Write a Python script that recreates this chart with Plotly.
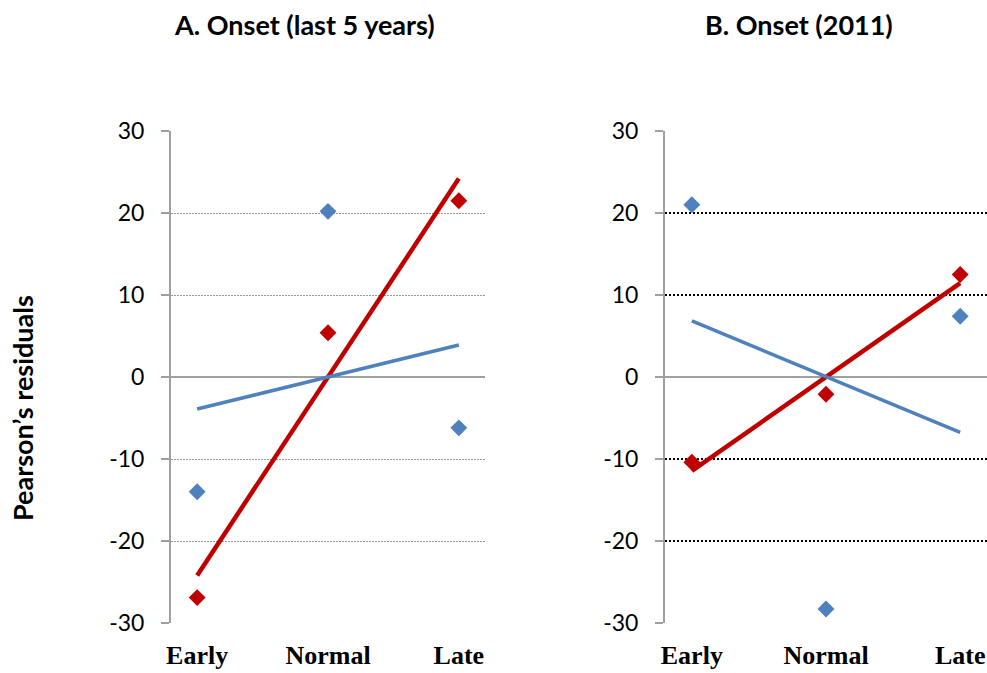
import numpy as np
import plotly.graph_objects as go

categories = ["Early", "Normal", "Late"]
cat_pos = [1, 2, 3]
y_ticks = [-30, -20, -10, 0, 10, 20, 30]
y_tick_text = ["-30", "-20", "-10", "0", "10", "20", "30"]

# Panel A: Onset (last 5 years)
a_blue = [-14.0, 20.2, -6.2]
a_red = [-26.9, 5.4, 21.5]
# Panel B: Onset (2011)
b_blue = [21.0, -28.3, 7.4]
b_red = [-10.4, -2.1, 12.5]

BLUE = "#4F81BD"
RED = "#C00000"
W, H = 987, 673


def px_x(p):
    return p / W


def px_y(p):
    return 1 - p / H


def trend(vals):
    k, b = np.polyfit(cat_pos, vals, 1)
    return [k * x + b for x in cat_pos]


fig = go.Figure()

for xa, ya, blue, red in [("x", "y", a_blue, a_red), ("x2", "y2", b_blue, b_red)]:
    fig.add_trace(go.Scatter(x=cat_pos, y=blue, mode="markers", xaxis=xa, yaxis=ya,
                             marker=dict(symbol="diamond", size=13, color=BLUE),
                             showlegend=False, hoverinfo="skip"))
    fig.add_trace(go.Scatter(x=cat_pos, y=red, mode="markers", xaxis=xa, yaxis=ya,
                             marker=dict(symbol="diamond", size=13, color=RED),
                             showlegend=False, hoverinfo="skip"))
    fig.add_trace(go.Scatter(x=cat_pos, y=trend(red), mode="lines", xaxis=xa, yaxis=ya,
                             line=dict(color=RED, width=4.5),
                             showlegend=False, hoverinfo="skip"))
    fig.add_trace(go.Scatter(x=cat_pos, y=trend(blue), mode="lines", xaxis=xa, yaxis=ya,
                             line=dict(color=BLUE, width=3.5),
                             showlegend=False, hoverinfo="skip"))

y_dom = [px_y(623), px_y(131)]
xcommon = dict(range=[0.8, 3.2], tickvals=cat_pos, ticktext=categories,
               showgrid=False, zeroline=False, showline=False, ticks="",
               ticklabelstandoff=14, automargin=False,
               tickfont=dict(family="Liberation Serif", size=26, color="#000000",
                             weight="bold"))
ycommon = dict(range=[-30, 30], tickvals=y_ticks, ticktext=y_tick_text,
               showline=True, linecolor="#A0A0A0",
               linewidth=2, ticks="outside", ticklen=8, tickcolor="#A0A0A0", tickwidth=1.5,
               zeroline=True, zerolinecolor="#A0A0A0", zerolinewidth=2,
               ticklabelstandoff=12, automargin=False,
               tickfont=dict(family="Lato", size=23, color="#000000"), domain=y_dom)

fig.update_layout(
    width=W, height=H,
    margin=dict(l=0, r=0, t=0, b=0, autoexpand=False),
    paper_bgcolor="white", plot_bgcolor="white",
    xaxis=dict(domain=[px_x(171), px_x(485)], anchor="y", **xcommon),
    xaxis2=dict(domain=[px_x(665), px_x(987)], anchor="y2", **xcommon),
    yaxis=dict(anchor="x", showgrid=True, gridcolor="#9A9A9A", gridwidth=1,
               griddash="2px,1px", **ycommon),
    yaxis2=dict(anchor="x2", showgrid=True, gridcolor="#000000", gridwidth=1.5,
                griddash="2px,2px", **ycommon),
    annotations=[
        dict(text="<b>A. Onset (last 5 years)</b>", x=px_x(304), y=px_y(25),
             xref="paper", yref="paper", showarrow=False, xanchor="center", yanchor="middle",
             font=dict(family="Lato", size=27, color="#000000")),
        dict(text="<b>B. Onset (2011)</b>", x=px_x(799), y=px_y(25),
             xref="paper", yref="paper", showarrow=False, xanchor="center", yanchor="middle",
             font=dict(family="Lato", size=27, color="#000000")),
        dict(text="<b>Pearson’s residuals</b>", x=px_x(23), y=px_y(408),
             xref="paper", yref="paper", showarrow=False, xanchor="center", yanchor="middle",
             textangle=-90, font=dict(family="Lato", size=27, color="#000000")),
    ],
)

fig.write_html(
    "out.html",
    config={"displayModeBar": False},
    post_script="document.body.style.margin='0';document.body.style.overflow='hidden';",
)
